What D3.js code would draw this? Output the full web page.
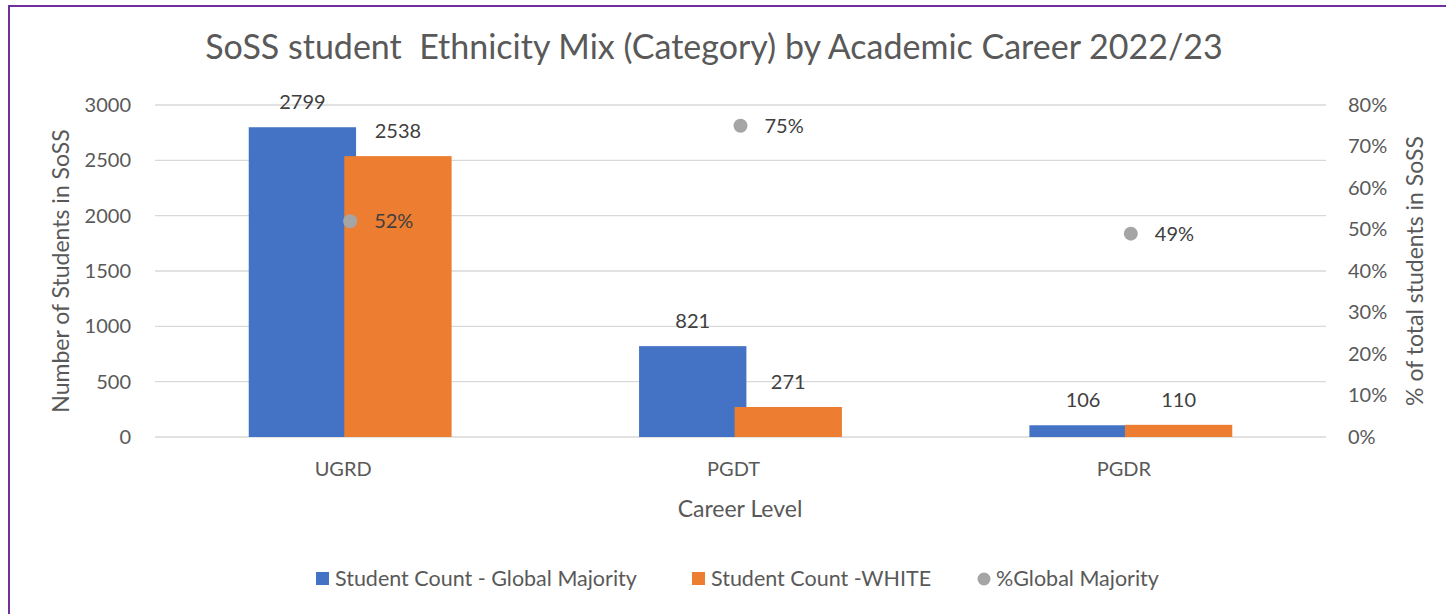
<!DOCTYPE html>
<html>
<head>
  <meta charset="utf-8">
  <title>SoSS student Ethnicity Mix</title>
  <style>
    body { margin: 0; background: #fff; }
    text { font-family: Lato, "Open Sans", sans-serif; white-space: pre; }
    .grid line { stroke: #d9d9d9; stroke-width: 1.3px; }
    .tick text { fill: #595959; font-size: 20px; }
    .label { fill: #404040; font-size: 20px; }
  </style>
</head>
<body>
  <script src="https://d3js.org/d3.v7.min.js"></script>
  <svg width="1446" height="614"></svg>
  <script>
    var careers = ["UGRD", "PGDT", "PGDR"];
    var globalMajority = [2799, 821, 106];
    var white = [2538, 271, 110];
    var pctGlobal = [0.52, 0.75, 0.49];
    var countTicks = [0, 500, 1000, 1500, 2000, 2500, 3000];
    var pctTicks = [0, 0.1, 0.2, 0.3, 0.4, 0.5, 0.6, 0.7, 0.8];

    var svg = d3.select("svg");

    // purple frame, only left and top edges are in view
    svg.append("rect")
        .attr("x", 9).attr("y", 6)
        .attr("width", 1460).attr("height", 640)
        .attr("fill", "none")
        .attr("stroke", "#7030a0")
        .attr("stroke-width", 2);

    var plotLeft = 155, plotRight = 1326, plotTop = 105, plotBottom = 437;

    var x = d3.scaleBand().domain(careers).range([plotLeft, plotRight]).padding(0);
    var y = d3.scaleLinear().domain([0, 3000]).range([plotBottom, plotTop]);
    var y2 = d3.scaleLinear().domain([0, 0.8]).range([plotBottom, plotTop]);

    // gridlines
    svg.append("g")
        .attr("class", "grid")
        .selectAll("line")
        .data(countTicks)
        .enter().append("line")
        .attr("x1", plotLeft).attr("x2", plotRight)
        .attr("y1", function(d) { return y(d); })
        .attr("y2", function(d) { return y(d); });

    var yAxis = svg.append("g")
        .attr("transform", "translate(" + (plotLeft - 16) + ",0)")
        .call(d3.axisLeft(y).tickValues(countTicks).tickSize(0).tickPadding(8)
          .tickFormat(d3.format("d")));
    yAxis.select(".domain").remove();

    var y2Axis = svg.append("g")
        .attr("transform", "translate(" + (plotRight + 14) + ",0)")
        .call(d3.axisRight(y2).tickValues(pctTicks).tickSize(0).tickPadding(8)
          .tickFormat(d3.format(".0%")));
    y2Axis.select(".domain").remove();

    var xAxis = svg.append("g")
        .attr("transform", "translate(-7," + (plotBottom + 21) + ")")
        .call(d3.axisBottom(x).tickSize(0).tickPadding(4));
    xAxis.select(".domain").remove();

    var barW = x.bandwidth() * 0.275;
    var overlap = barW * 0.11;
    var shift = (barW - overlap) / 2;

    var series = [
      { values: globalMajority, color: "#4472c4", off: -shift },
      { values: white, color: "#ed7d31", off: shift }
    ];

    series.forEach(function(s) {
      var g = svg.append("g");
      g.selectAll("rect")
          .data(careers)
          .enter().append("rect")
          .attr("x", function(d) { return x(d) + x.bandwidth() / 2 + s.off - barW / 2; })
          .attr("y", function(d, i) { return y(s.values[i]); })
          .attr("width", barW)
          .attr("height", function(d, i) { return plotBottom - y(s.values[i]); })
          .attr("fill", s.color);
      g.selectAll("text")
          .data(careers)
          .enter().append("text")
          .attr("class", "label")
          .attr("text-anchor", "middle")
          .attr("x", function(d) { return x(d) + x.bandwidth() / 2 + s.off; })
          .attr("y", function(d, i) { return y(s.values[i]) - 18; })
          .text(function(d, i) { return s.values[i]; });
    });

    // % global majority points
    var pts = svg.append("g");
    pts.selectAll("circle")
        .data(careers)
        .enter().append("circle")
        .attr("cx", function(d) { return x(d) + x.bandwidth() / 2; })
        .attr("cy", function(d, i) { return y2(pctGlobal[i]); })
        .attr("r", 7)
        .attr("fill", "#a5a5a5");
    pts.selectAll("text")
        .data(careers)
        .enter().append("text")
        .attr("class", "label")
        .attr("x", function(d) { return x(d) + x.bandwidth() / 2 + 24; })
        .attr("y", function(d, i) { return y2(pctGlobal[i]) + 7; })
        .text(function(d, i) { return d3.format(".0%")(pctGlobal[i]); });

    // titles
    svg.append("text")
        .attr("x", 714).attr("y", 59)
        .attr("text-anchor", "middle")
        .attr("fill", "#595959")
        .style("font-size", "34px")
        .text("SoSS student  Ethnicity Mix (Category) by Academic Career 2022/23");

    svg.append("text")
        .attr("transform", "translate(69," + ((plotTop + plotBottom) / 2) + ") rotate(-90)")
        .attr("text-anchor", "middle")
        .attr("fill", "#595959")
        .style("font-size", "23px")
        .text("Number of Students in SoSS");

    svg.append("text")
        .attr("transform", "translate(1423," + ((plotTop + plotBottom) / 2) + ") rotate(-90)")
        .attr("text-anchor", "middle")
        .attr("fill", "#595959")
        .style("font-size", "23px")
        .text("% of total students in SoSS");

    svg.append("text")
        .attr("x", 740).attr("y", 517)
        .attr("text-anchor", "middle")
        .attr("fill", "#595959")
        .style("font-size", "23px")
        .text("Career Level");

    // legend
    var legendItems = [
      { name: "Student Count - Global Majority", color: "#4472c4", shape: "rect", x: 316 },
      { name: "Student Count -WHITE", color: "#ed7d31", shape: "rect", x: 692 },
      { name: "%Global Majority", color: "#a5a5a5", shape: "circle", x: 977 }
    ];
    var lg = svg.append("g").selectAll("g")
        .data(legendItems)
        .enter().append("g")
        .attr("transform", function(d) { return "translate(" + d.x + ",579)"; });
    lg.each(function(d) {
      var g = d3.select(this);
      if (d.shape === "rect") {
        g.append("rect").attr("x", 0).attr("y", -7).attr("width", 13).attr("height", 13).attr("fill", d.color);
      } else {
        g.append("circle").attr("cx", 7).attr("cy", 0).attr("r", 6.5).attr("fill", d.color);
      }
      g.append("text")
          .attr("x", 19).attr("y", 7)
          .attr("fill", "#595959")
          .style("font-size", "21.5px")
          .text(d.name);
    });
  </script>
</body>
</html>
